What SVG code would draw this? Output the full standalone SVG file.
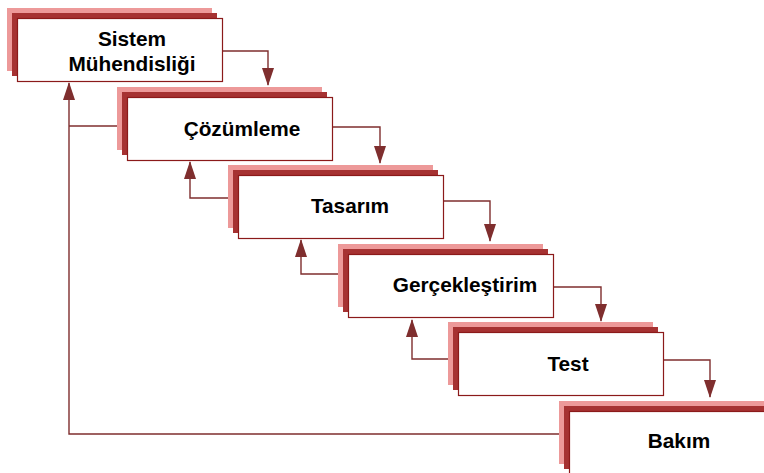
<svg xmlns="http://www.w3.org/2000/svg" width="764" height="473" viewBox="0 0 764 473">
  <style>
    .back { fill: #ED9999; }
    .mid { fill: #A63232; }
    .face { fill: #FFFFFF; stroke: #8B1A1A; stroke-width: 1.2; }
    .lbl { font-family: "Liberation Sans", Arial, sans-serif; font-weight: bold; font-size: 20.8px; fill: #000000; text-anchor: middle; }
    .wire { fill: none; stroke: #7F2E2E; stroke-width: 1.4; }
  </style>
  <defs>
    <marker id="up" markerUnits="userSpaceOnUse" markerWidth="12" markerHeight="18" viewBox="0 0 12 18" refX="6" refY="1" orient="0">
      <path d="M6,0 L12,18 L0,18 Z" fill="#7F2E2E"/>
    </marker>
    <marker id="down" markerUnits="userSpaceOnUse" markerWidth="12" markerHeight="18" viewBox="0 0 12 18" refX="6" refY="17" orient="0">
      <path d="M0,0 L12,0 L6,18 Z" fill="#7F2E2E"/>
    </marker>
    <!-- stacked card: two offset backing layers and a white face -->
    <g id="card">
      <rect class="back" x="-10" y="-10" width="205" height="63"/>
      <rect class="mid" x="-5" y="-5" width="205" height="63"/>
      <rect class="face" x="0.5" y="0.5" width="205" height="63"/>
    </g>
  </defs>

  <g id="connectors">
    <!-- forward steps -->
    <polyline class="wire" points="222,51 268,51 268,85" marker-end="url(#down)"/>
    <polyline class="wire" points="332,127 380,127 380,163" marker-end="url(#down)"/>
    <polyline class="wire" points="443,201 490,201 490,241" marker-end="url(#down)"/>
    <polyline class="wire" points="553,287 601,287 601,321" marker-end="url(#down)"/>
    <polyline class="wire" points="663,360 710,360 710,397" marker-end="url(#down)"/>
    <!-- feedback paths -->
    <polyline class="wire" points="127,126 69,126"/>
    <polyline class="wire" points="569,434 69,434 69,83" marker-end="url(#up)"/>
    <polyline class="wire" points="238,198 190,198 190,162" marker-end="url(#up)"/>
    <polyline class="wire" points="348,274 301,274 301,240" marker-end="url(#up)"/>
    <polyline class="wire" points="458,359 412,359 412,320" marker-end="url(#up)"/>
  </g>

  <g id="sistem-muhendisligi">
    <use href="#card" x="17" y="18"/>
    <text class="lbl" x="132" y="46">Sistem</text>
    <text class="lbl" x="132" y="71">Mühendisliği</text>
  </g>
  <g id="cozumleme">
    <use href="#card" x="127" y="97"/>
    <text class="lbl" x="242" y="136">Çözümleme</text>
  </g>
  <g id="tasarim">
    <use href="#card" x="238" y="175"/>
    <text class="lbl" x="350" y="213">Tasarım</text>
  </g>
  <g id="gerceklestirim">
    <use href="#card" x="348" y="254"/>
    <text class="lbl" x="465" y="292">Gerçekleştirim</text>
  </g>
  <g id="test">
    <use href="#card" x="458" y="332"/>
    <text class="lbl" x="568" y="371">Test</text>
  </g>
  <g id="bakim">
    <use href="#card" x="569" y="411"/>
    <text class="lbl" x="679" y="448">Bakım</text>
  </g>
</svg>
